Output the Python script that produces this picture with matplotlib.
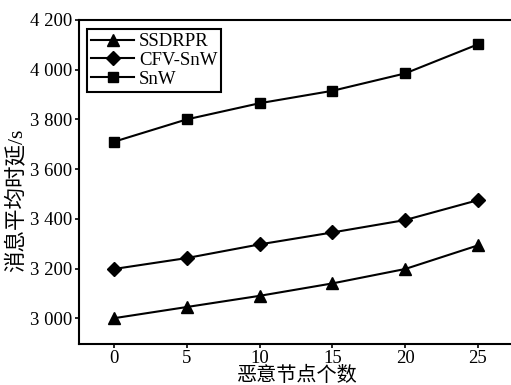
import matplotlib
matplotlib.use("Agg")
import matplotlib.pyplot as plt

plt.rcParams['font.family'] = ['Liberation Serif', 'Noto Sans CJK SC']
plt.rcParams['font.size'] = 13.5

nodes = [0, 5, 10, 15, 20, 25]
ssdrpr = [3000, 3045, 3090, 3140, 3198, 3293]
cfv_snw = [3198, 3242, 3297, 3345, 3395, 3475]
snw = [3710, 3800, 3865, 3915, 3985, 4102]

y_ticks = [3000, 3200, 3400, 3600, 3800, 4000, 4200]
y_tick_labels = ['3 000', '3 200', '3 400', '3 600', '3 800', '4 000', '4 200']

fig = plt.figure(figsize=(5.11, 3.85), dpi=100)
ax = fig.add_axes([0.1546, 0.1057, 0.8548, 0.8424])

ax.plot(nodes, ssdrpr, color='black', lw=1.5, marker='^', ms=8, label='SSDRPR')
ax.plot(nodes, cfv_snw, color='black', lw=1.5, marker='D', ms=7, label='CFV-SnW')
ax.plot(nodes, snw, color='black', lw=1.5, marker='s', ms=7, label='SnW')

ax.set_xlim(-2.4, 27.6)
ax.set_ylim(2895, 4200)
ax.set_xticks(nodes)
ax.set_yticks(y_ticks)
ax.set_yticklabels(y_tick_labels)
ax.tick_params(axis='x', direction='out', length=3, width=1.2, pad=1)
ax.tick_params(axis='y', direction='out', length=3, width=1.2, pad=2)

for s in ax.spines.values():
    s.set_linewidth(1.5)
ax.spines['right'].set_visible(False)

ax.set_xlabel('恶意节点个数', fontsize=14.5, labelpad=0)
ax.set_ylabel('消息平均时延/s', fontsize=15.5)
ax.yaxis.set_label_coords(-0.12, 0.445)

leg = ax.legend(loc='upper left', bbox_to_anchor=(0.018, 0.972), borderaxespad=0,
                fancybox=False, edgecolor='black', framealpha=1,
                handlelength=2.3, handletextpad=0.25, borderpad=0.22,
                labelspacing=0.08)
leg.get_frame().set_linewidth(1.5)

fig.savefig('out.png', dpi=100)
